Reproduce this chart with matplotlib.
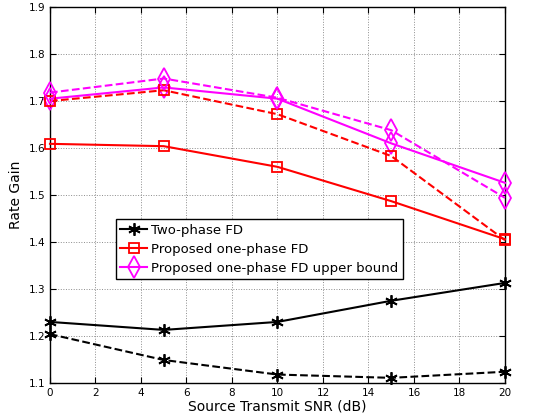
import numpy as np
import matplotlib
matplotlib.use("Agg")
import matplotlib.pyplot as plt

snr = [0, 5, 10, 15, 20]
two_phase = [1.230, 1.213, 1.230, 1.275, 1.313]
two_phase_dash = [1.204, 1.149, 1.118, 1.111, 1.124]
one_phase = [1.609, 1.604, 1.560, 1.487, 1.406]
one_phase_dash = [1.700, 1.723, 1.672, 1.583, 1.404]
upper = [1.705, 1.729, 1.705, 1.610, 1.526]
upper_dash = [1.718, 1.748, 1.707, 1.638, 1.494]

fig = plt.figure(figsize=(5.48, 4.16), dpi=100)
ax = fig.add_axes([0.0912, 0.0793, 0.8303, 0.9037])

lw = 1.5
star = (6, 2, 0)  # asterisk, like MATLAB '*'
common = dict(lw=lw, clip_on=False, zorder=3)
ax.plot(snr, two_phase, '-', color='black', marker=star, ms=9, mew=1.3, label='Two-phase FD', **common)
ax.plot(snr, one_phase, '-', color='red', marker='s', ms=7, mfc='none', mew=1.3, label='Proposed one-phase FD', **common)
ax.plot(snr, upper, '-', color='magenta', marker='d', ms=11, mfc='none', mew=1.3, label='Proposed one-phase FD upper bound', **common)
ax.plot(snr, two_phase_dash, '--', color='black', marker=star, ms=9, mew=1.3, **common)
ax.plot(snr, one_phase_dash, '--', color='red', marker='s', ms=7, mfc='none', mew=1.3, **common)
ax.plot(snr, upper_dash, '--', color='magenta', marker='d', ms=11, mfc='none', mew=1.3, **common)

ax.set_xlim(0, 20)
ax.set_ylim(1.1, 1.9)
ax.set_xticks(np.arange(0, 21, 2))
ax.set_yticks(np.arange(1.1, 1.91, 0.1))
ax.tick_params(direction='in', top=True, right=True, labelsize=7.5, length=4)
ax.grid(True, linestyle=':', color='0.55', lw=0.7)
ax.set_xlabel('Source Transmit SNR (dB)', fontsize=10, labelpad=1)
ax.set_ylabel('Rate Gain', fontsize=10, labelpad=4)
for s in ax.spines.values():
    s.set_linewidth(1.0)

leg = ax.legend(loc='lower left', bbox_to_anchor=(0.13, 0.258), fontsize=9.5, fancybox=False,
                edgecolor='black', framealpha=1, handlelength=2.0, borderpad=0.35,
                labelspacing=0.45, handletextpad=0.3)
leg.get_frame().set_linewidth(1.0)

fig.savefig('out.png', dpi=100)
